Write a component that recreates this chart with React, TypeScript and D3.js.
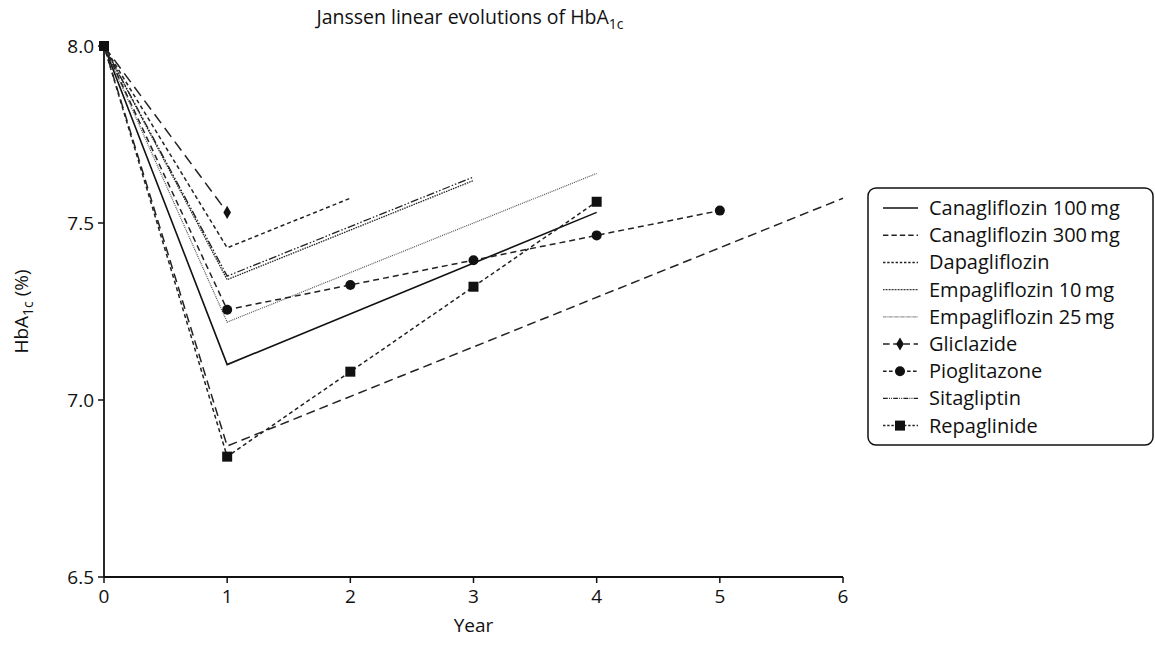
import React from "react";
import * as d3 from "d3";

const years = [0, 1, 2, 3, 4, 5, 6];
const yTicks = [6.5, 7.0, 7.5, 8.0];

const seriesNames = [
  "Canagliflozin 100\u2009mg",
  "Canagliflozin 300\u2009mg",
  "Dapagliflozin",
  "Empagliflozin 10\u2009mg",
  "Empagliflozin 25\u2009mg",
  "Gliclazide",
  "Pioglitazone",
  "Sitagliptin",
  "Repaglinide",
];

const cana100X = [0, 1, 4];
const cana100Y = [8.0, 7.1, 7.53];
const cana300X = [0, 1, 6];
const cana300Y = [8.0, 6.87, 7.57];
const dapaX = [0, 1, 2];
const dapaY = [8.0, 7.43, 7.57];
const empa10X = [0, 1, 3];
const empa10Y = [8.0, 7.34, 7.62];
const empa25X = [0, 1, 4];
const empa25Y = [8.0, 7.22, 7.64];
const gliclX = [0, 1];
const gliclY = [8.0, 7.53];
const pioX = [0, 1, 2, 3, 4, 5];
const pioY = [8.0, 7.255, 7.325, 7.395, 7.465, 7.535];
const sitaX = [0, 1, 3];
const sitaY = [8.0, 7.35, 7.63];
const repaX = [0, 1, 2, 3, 4];
const repaY = [8.0, 6.84, 7.08, 7.32, 7.56];

type Style = { dash: string; width: number; color: string; marker: string | null };

const styles: Style[] = [
  { dash: "", width: 1.6, color: "#111", marker: null },
  { dash: "9,5", width: 1.5, color: "#222", marker: null },
  { dash: "4,3", width: 1.5, color: "#222", marker: null },
  { dash: "1.5,1", width: 1.3, color: "#222", marker: null },
  { dash: "1,1", width: 1.2, color: "#555", marker: null },
  { dash: "11,6", width: 1.5, color: "#222", marker: "diamond" },
  { dash: "6,4", width: 1.5, color: "#222", marker: "circle" },
  { dash: "8,2,1.5,2,1.5,2", width: 1.3, color: "#222", marker: null },
  { dash: "4,3", width: 1.5, color: "#222", marker: "square" },
];

const seriesX = [cana100X, cana300X, dapaX, empa10X, empa25X, gliclX, pioX, sitaX, repaX];
const seriesY = [cana100Y, cana300Y, dapaY, empa10Y, empa25Y, gliclY, pioY, sitaY, repaY];

const FONT = "'Open Sans', 'Noto Sans', sans-serif";

function Marker({ type, x, y }: { type: string | null; x: number; y: number }) {
  if (type === "circle") return <circle cx={x} cy={y} r={5} fill="#111" />;
  if (type === "square") return <rect x={x - 5} y={y - 5} width={10} height={10} fill="#111" />;
  if (type === "diamond")
    return (
      <path
        d={d3.symbol().type(d3.symbolDiamond).size(50)() || ""}
        transform={`translate(${x},${y})`}
        fill="#111"
      />
    );
  return null;
}

export default function App() {
  const W = 1155;
  const H = 648;
  const x = d3.scaleLinear().domain([0, 6]).range([104, 843]);
  const y = d3.scaleLinear().domain([6.5, 8.0]).range([577, 46]);
  const line = d3
    .line<[number, number]>()
    .x((d) => x(d[0]))
    .y((d) => y(d[1]));

  const legendX = 868;
  const legendY = 188;
  const rowH = 27.2;

  return (
    <svg
      width={W}
      height={H}
      style={{ position: "absolute", left: 0, top: 0, background: "#fff" }}
      fontFamily={FONT}
    >
      <text x={470} y={24} textAnchor="middle" fontSize={19.5} fill="#111">
        Janssen linear evolutions of HbA
        <tspan fontSize={14} dy={5}>1c</tspan>
      </text>

      {seriesNames.map((name, i) => {
        const pts = seriesX[i].map((xv, j) => [xv, seriesY[i][j]] as [number, number]);
        const s = styles[i];
        return (
          <g key={name}>
            <path
              d={line(pts) || ""}
              fill="none"
              stroke={s.color}
              strokeWidth={s.width}
              strokeDasharray={s.dash || undefined}
            />
            {s.marker &&
              pts.slice(1).map((p, j) => <Marker key={j} type={s.marker} x={x(p[0])} y={y(p[1])} />)}
          </g>
        );
      })}
      <rect x={x(0) - 5} y={y(8) - 5} width={10} height={10} fill="#111" />

      {/* axes */}
      <line x1={x(0)} x2={x(0)} y1={y(8)} y2={y(6.5)} stroke="#111" strokeWidth={1.8} />
      <line x1={x(0)} x2={x(6)} y1={y(6.5)} y2={y(6.5)} stroke="#111" strokeWidth={1.8} />
      {yTicks.map((t) => (
        <g key={t}>
          <line x1={x(0) - 6} x2={x(0)} y1={y(t)} y2={y(t)} stroke="#111" strokeWidth={1.5} />
          <text x={x(0) - 10} y={y(t)} dy="0.35em" textAnchor="end" fontSize={19} fill="#111">
            {t.toFixed(1)}
          </text>
        </g>
      ))}
      {years.map((t) => (
        <g key={t}>
          <line x1={x(t)} x2={x(t)} y1={y(6.5)} y2={y(6.5) + 6} stroke="#111" strokeWidth={1.5} />
          <text x={x(t)} y={y(6.5) + 26} textAnchor="middle" fontSize={19} fill="#111">
            {t}
          </text>
        </g>
      ))}
      <text x={(x(0) + x(6)) / 2} y={y(6.5) + 55} textAnchor="middle" fontSize={19} fill="#111">
        Year
      </text>
      <text
        transform={`translate(28,${(y(8) + y(6.5)) / 2}) rotate(-90)`}
        textAnchor="middle"
        fontSize={19}
        fill="#111"
      >
        HbA<tspan fontSize={14} dy={5}>1c</tspan>
        <tspan dy={-5}> (%)</tspan>
      </text>

      {/* legend */}
      <rect
        x={legendX}
        y={legendY}
        width={W - legendX - 2}
        height={257}
        rx={8}
        fill="#fff"
        stroke="#111"
        strokeWidth={1.5}
      />
      {seriesNames.map((name, i) => {
        const s = styles[i];
        const cy = legendY + 20 + i * rowH;
        return (
          <g key={name}>
            <line
              x1={legendX + 15}
              x2={legendX + 50}
              y1={cy}
              y2={cy}
              stroke={s.color}
              strokeWidth={s.width}
              strokeDasharray={s.dash ? s.dash.split(",").map((v) => +v * 0.6).join(",") : undefined}
            />
            {s.marker && <Marker type={s.marker} x={legendX + 32} y={cy} />}
            <text x={legendX + 61} y={cy} dy="0.35em" fontSize={20} fill="#111">
              {name}
            </text>
          </g>
        );
      })}
    </svg>
  );
}
